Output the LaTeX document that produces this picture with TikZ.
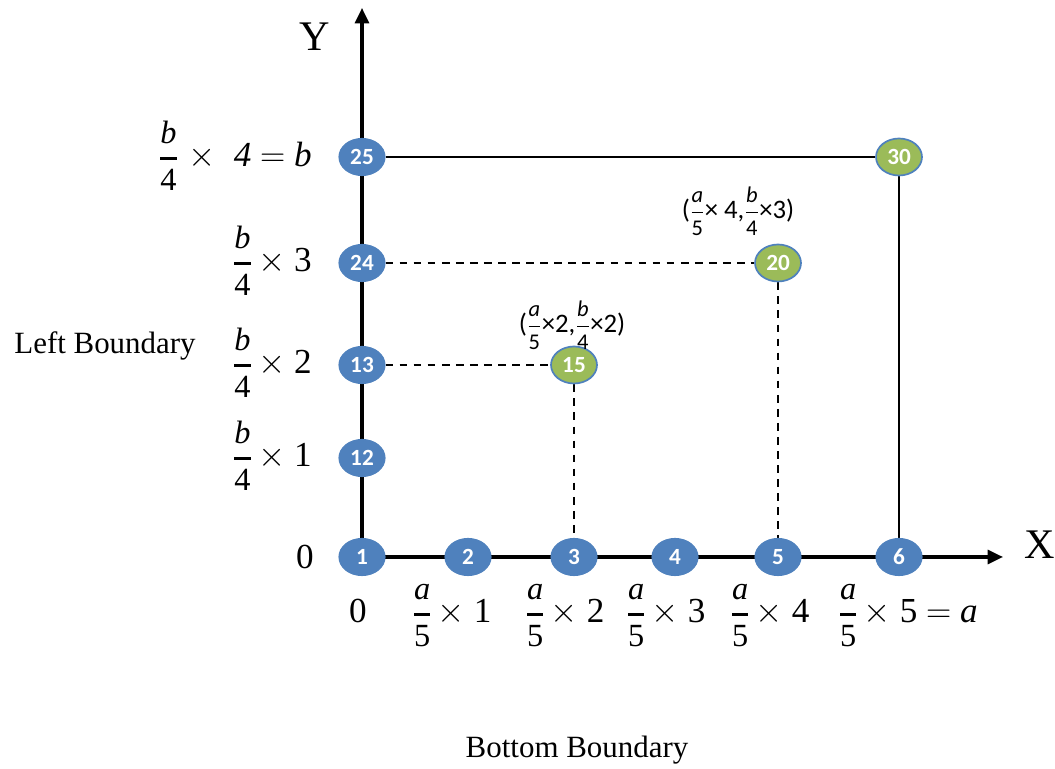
\documentclass[tikz,border=0pt]{standalone}
\usepackage{amsmath}
\usepackage{fontspec}
\setmainfont{Liberation Serif}
\newfontfamily\carl{Carlito}
\usetikzlibrary{positioning, arrows.meta, shapes.geometric, backgrounds, calc}
\definecolor{Cb}{RGB}{79,129,189}
\definecolor{Cg}{RGB}{155,187,89}
% fraction with thick rule and mid-size parts
\newcommand{\frc}[2]{\ensuremath{\genfrac{}{}{2pt}{0}%
  {\hbox{\fontsize{23}{23}\selectfont\itshape #1}}%
  {\hbox{\fontsize{23}{23}\selectfont #2}}}}
\newcommand{\frs}[2]{\ensuremath{\genfrac{}{}{1.1pt}{0}%
  {\hbox{\fontsize{16}{16}\selectfont\itshape #1}}%
  {\hbox{\fontsize{16}{16}\selectfont #2}}}}
\tikzset{
  Nb/.style={ellipse, draw=Cb, fill=Cb, line width=0.8pt,
    minimum width=1.15cm, minimum height=0.925cm, inner sep=0pt,
    text=white, font=\carl\bfseries\fontsize{16.5}{16.5}\selectfont},
  Ng/.style={Nb, fill=Cg, line width=1.2pt},
  lbl/.style={font=\fontsize{25}{28}\selectfont, inner sep=0pt},
  bnd/.style={font=\fontsize{22}{26}\selectfont, inner sep=0pt},
  crd/.style={font=\carl\fontsize{19}{22}\selectfont, inner sep=0pt},
  ax/.style={-{Triangle[length=11pt,width=10pt]}, line width=2.2pt},
  sl/.style={line width=1.4pt},
  dl/.style={line width=1.4pt, dash pattern=on 5.5pt off 4.5pt}
}

\begin{document}
\begin{tikzpicture}
\useasboundingbox (0,0) rectangle (26.375,19.225);

% ═══════════════════════════════════════════════════════════════
%  Nodes  Bottom row y=5.3  |  Left column x=9.05
% ═══════════════════════════════════════════════════════════════
\node[Nb] (N1)  at ( 9.05,  5.3) {1};
\node[Nb] (N2)  at (11.7,   5.3) {2};
\node[Nb] (N3)  at (14.35,  5.3) {3};
\node[Nb] (N4)  at (16.875, 5.3) {4};
\node[Nb] (N5)  at (19.45,  5.3) {5};
\node[Nb] (N6)  at (22.475, 5.3) {6};

\node[Nb] (N12) at ( 9.05,  7.775) {12};
\node[Nb] (N13) at ( 9.05, 10.1)   {13};
\node[Nb] (N24) at ( 9.05, 12.65)  {24};
\node[Nb] (N25) at ( 9.05, 15.3)   {25};

\node[Ng] (N15) at (14.35, 10.1)  {15};
\node[Ng] (N20) at (19.45, 12.65) {20};
\node[Ng] (N30) at (22.475, 15.3) {30};

\coordinate (Xtip) at (25.075, 5.3);
\coordinate (Ytip) at ( 9.05, 19.025);

% ═══════════════════════════════════════════════════════════════
%  Axes and grid lines (behind the nodes)
% ═══════════════════════════════════════════════════════════════
\begin{scope}[on background layer]
  \draw[ax] (N1.center) -- (Xtip);
  \draw[ax] (N1.center) -- (Ytip);
  \draw[sl] (N25) -- (N30);
  \draw[sl] (N30) -- (N6);
  \draw[dl] (N24) -- (N20);
  \draw[dl] (N20) -- (N5);
  \draw[dl] (N13) -- (N15);
  \draw[dl] (N15) -- (N3);
\end{scope}

% ═══════════════════════════════════════════════════════════════
%  Axis labels
% ═══════════════════════════════════════════════════════════════
\node[font=\fontsize{30}{32}\selectfont] (Ylab) at (7.875, 18.3) {Y};
\node[font=\fontsize{30}{32}\selectfont] (Xlab) at (26.0, 5.6) {X};
\node[lbl] (L0) at (7.625, 5.3) {0};

\node[lbl, anchor=base east] (L12) at (7.8, 7.55)  {\frc{b}{4}\,$\times$ 1};
\node[lbl, anchor=base east] (L13) at (7.8, 9.875) {\frc{b}{4}\,$\times$ 2};
\node[lbl, anchor=base east] (L24) at (7.8, 12.425) {\frc{b}{4}\,$\times$ 3};
\node[lbl, anchor=base east] (L25) at (7.8, 15.05)
  {\frc{b}{4}\;$\times$\; \textit{4} $=$ \textit{b}};

\node[lbl, anchor=base] (B0) at ( 8.95, 3.65) {0};
\node[lbl, anchor=base] (B1) at (11.3,  3.65) {\frc{a}{5}\,$\times$ 1};
\node[lbl, anchor=base] (B2) at (14.125,3.65) {\frc{a}{5}\,$\times$ 2};
\node[lbl, anchor=base] (B3) at (16.65, 3.65) {\frc{a}{5}\,$\times$ 3};
\node[lbl, anchor=base] (B4) at (19.25, 3.65) {\frc{a}{5}\,$\times$ 4};
\node[lbl, anchor=base] (B5) at (22.7,  3.65) {\frc{a}{5}\,$\times$ 5 $=$ \textit{a}};

% ═══════════════════════════════════════════════════════════════
%  Point coordinates and boundary names
% ═══════════════════════════════════════════════════════════════
\node[crd] (C15) at (14.3, 11.1) {(\frs{a}{5}×2,\frs{b}{4}×2)};
\node[crd] (C20) at (18.45, 13.95) {(\frs{a}{5}× 4,\frs{b}{4}×3)};

\node[bnd] (Lbd) at ( 2.625, 10.575) {Left Boundary};
\node[bnd] (Bbd) at (14.425,  0.475) {Bottom Boundary};

\end{tikzpicture}
\end{document}
